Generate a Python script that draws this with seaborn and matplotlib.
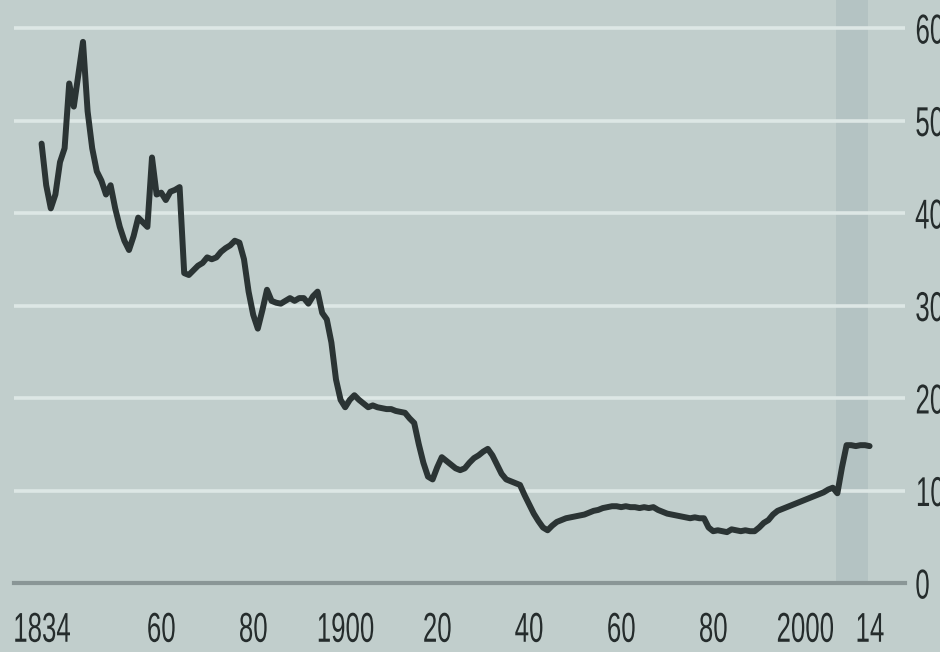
import matplotlib
matplotlib.use("Agg")
import matplotlib.pyplot as plt
from matplotlib.patheffects import AbstractPathEffect
from matplotlib.transforms import Affine2D
import pandas as pd
import seaborn as sns

# Annual series, per cent
years = list(range(1834, 2015))
share = [
    # 1834-1843
    47.5, 43.0, 40.5, 42.0, 45.5, 47.0, 54.0, 51.5, 55.0, 58.5,
    # 1844-1853
    51.0, 47.0, 44.5, 43.5, 42.0, 43.0, 40.5, 38.5, 37.0, 36.0,
    # 1854-1863
    37.5, 39.5, 39.0, 38.5, 46.0, 42.0, 42.2, 41.4, 42.3, 42.5,
    # 1864-1873
    42.8, 33.5, 33.3, 33.8, 34.3, 34.6, 35.2, 35.0, 35.2, 35.8,
    # 1874-1883
    36.2, 36.5, 37.0, 36.8, 35.0, 31.5, 29.0, 27.5, 29.5, 31.7,
    # 1884-1893
    30.5, 30.3, 30.2, 30.5, 30.8, 30.5, 30.8, 30.8, 30.2, 31.0,
    # 1894-1903
    31.5, 29.2, 28.5, 26.0, 22.0, 19.8, 19.0, 19.8, 20.3, 19.8,
    # 1904-1913
    19.4, 19.0, 19.2, 19.0, 18.9, 18.8, 18.8, 18.6, 18.5, 18.4,
    # 1914-1923
    17.8, 17.3, 15.0, 13.0, 11.5, 11.2, 12.5, 13.6, 13.2, 12.8,
    # 1924-1933
    12.4, 12.2, 12.4, 13.0, 13.5, 13.8, 14.2, 14.5, 13.8, 12.8,
    # 1934-1943
    11.8, 11.2, 11.0, 10.8, 10.6, 9.5, 8.5, 7.5, 6.7, 6.0,
    # 1944-1953
    5.7, 6.2, 6.6, 6.8, 7.0, 7.1, 7.2, 7.3, 7.4, 7.6,
    # 1954-1963
    7.8, 7.9, 8.1, 8.2, 8.3, 8.3, 8.2, 8.3, 8.2, 8.2,
    # 1964-1973
    8.1, 8.2, 8.1, 8.2, 7.9, 7.7, 7.5, 7.4, 7.3, 7.2,
    # 1974-1983
    7.1, 7.0, 7.1, 7.0, 7.0, 6.0, 5.6, 5.7, 5.6, 5.5,
    # 1984-1993
    5.8, 5.7, 5.6, 5.7, 5.6, 5.6, 6.0, 6.5, 6.8, 7.4,
    # 1994-2003
    7.8, 8.0, 8.2, 8.4, 8.6, 8.8, 9.0, 9.2, 9.4, 9.6,
    # 2004-2014
    9.8, 10.1, 10.3, 9.7, 12.5, 14.9, 14.9, 14.8, 14.9, 14.9, 14.8,
]

y_ticks = [0, 10, 20, 30, 40, 50, 60]
x_major = [1840, 1860, 1880, 1900, 1920, 1940, 1960, 1980, 2000]
x_major_labels = ["", "60", "80", "1900", "20", "40", "60", "80", "2000"]
x_minor = [1834, 1850, 1870, 1890, 1910, 1930, 1950, 1970, 1990, 2010, 2014]
x_minor_labels = ["1834", "", "", "", "", "", "", "", "", "", "14"]
shaded_span = (2006.6, 2013.6)

df = pd.DataFrame({"year": years, "share": share})


class Condensed(AbstractPathEffect):
    """Squeeze glyphs horizontally to get a narrow, newspaper-style face."""

    def __init__(self, sx=0.62, anchor="center"):
        super().__init__()
        self.sx = sx
        self.anchor = anchor

    def draw_path(self, renderer, gc, tpath, affine, rgbFace=None):
        ext = tpath.get_extents()
        cx = 0.5 * (ext.x0 + ext.x1) if self.anchor == "center" else ext.x0
        squeeze = Affine2D().translate(-cx, 0).scale(self.sx, 1).translate(cx, 0)
        renderer.draw_path(gc, tpath, squeeze + affine, rgbFace)


BG = "#c1cecc"
TXT = "#252c2c"
sns.set_theme(style="white")
plt.rcParams["font.family"] = ["Liberation Sans", "DejaVu Sans"]

fig = plt.figure(figsize=(9.4, 6.52), dpi=100, facecolor=BG)
ax = fig.add_axes([14 / 940, 69 / 652, (905 - 14) / 940, 583 / 652])
ax.set_facecolor(BG)

ax.axvspan(*shaded_span, color="#b4c3c3", zorder=0.3, lw=0)

sns.lineplot(data=df, x="year", y="share", ax=ax, color="#2b3434",
             linewidth=4.3, estimator=None, zorder=3)

ax.set_xlim(1828, 2021.7)
ax.set_ylim(0, 583 / 9.25)

ax.set_axisbelow(True)
ax.set_yticks(y_ticks)
ax.set_yticklabels([str(v) for v in y_ticks])
ax.yaxis.tick_right()
ax.yaxis.grid(True, color="#dde7e5", linewidth=2.6)
ax.xaxis.grid(False)

ax.set_xticks(x_major)
ax.set_xticklabels(x_major_labels)
ax.set_xticks(x_minor, minor=True)
ax.set_xticklabels(x_minor_labels, minor=True)

tick_col = "#3c4545"
ax.tick_params(axis="x", which="major", direction="in", length=14, width=1.4,
               color=tick_col, pad=20, labelsize=30, labelcolor=TXT)
ax.tick_params(axis="x", which="minor", direction="in", length=8, width=1.4,
               color=tick_col, pad=20, labelsize=30, labelcolor=TXT)
ax.tick_params(axis="y", which="both", length=0, pad=7, labelsize=30,
               labelcolor=TXT)

for lab in ax.get_xticklabels(which="both"):
    lab.set_path_effects([Condensed(0.62, "center")])
for lab in ax.get_yticklabels():
    lab.set_path_effects([Condensed(0.62, "left")])

for side in ["top", "left", "right"]:
    ax.spines[side].set_visible(False)
ax.spines["bottom"].set_color("#8a9696")
ax.spines["bottom"].set_linewidth(3)
ax.spines["bottom"].set_zorder(2)

ax.set_xlabel("")
ax.set_ylabel("")

fig.savefig("out.png", dpi=100, facecolor=BG)
